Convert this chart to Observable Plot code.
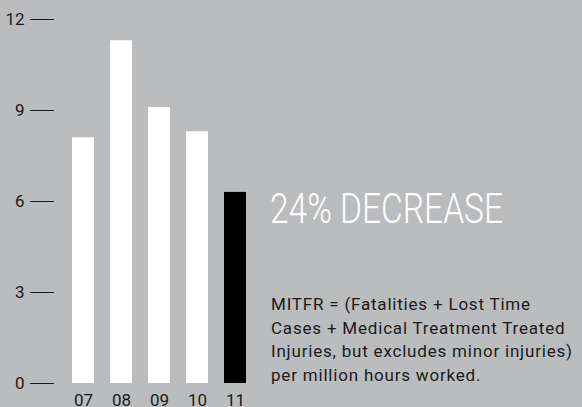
<!DOCTYPE html>
<html>
<head>
<meta charset="utf-8">
<script src="https://cdn.jsdelivr.net/npm/d3@7"></script>
<script src="https://cdn.jsdelivr.net/npm/@observablehq/plot@0.6"></script>
<style>
  html, body { margin: 0; padding: 0; background: #bbbcbe; overflow: hidden; width: 582px; height: 407px; }
  #wrap { position: relative; width: 582px; height: 407px; overflow: hidden; }
  #headline { position: absolute; left: 270px; top: 187px; font-family: Roboto, sans-serif; font-weight: 300; font-size: 43px; line-height: 43px; color: #ffffff; white-space: nowrap; transform-origin: 0 0; }
  #note { position: absolute; left: 271px; top: 293px; font-family: Roboto, sans-serif; font-size: 17px; line-height: 23.7px; letter-spacing: 0.8px; color: #1a1a1a; white-space: nowrap; }
</style>
</head>
<body>
<div id="wrap">
  <div id="chart"></div>
  <div id="headline">24% DECREASE</div>
  <div id="note">MITFR = (Fatalities + Lost Time<br>Cases + Medical Treatment Treated<br>Injuries, but excludes minor injuries)<br>per million hours worked.</div>
</div>
<script>
const years = ["07", "08", "09", "10", "11"];
const mitfr = [8.1, 11.3, 9.1, 8.3, 6.3];
const barColors = ["#ffffff", "#ffffff", "#ffffff", "#ffffff", "#000000"];
const yTicks = [0, 3, 6, 9, 12];

const data = years.map((year, i) => ({year, value: mitfr[i], color: barColors[i]}));

const chart = Plot.plot({
  width: 582,
  height: 420,
  marginTop: 19,
  marginBottom: 37,
  marginLeft: 54,
  marginRight: 318,
  style: {background: "#bbbcbe", fontFamily: "Roboto, sans-serif", fontSize: "17px", color: "#1a1a1a", overflow: "visible"},
  x: {domain: years, padding: 0.41, label: null, tickSize: 0, tickPadding: 10},
  y: {domain: [0, 12], ticks: yTicks, tickSize: 24, tickPadding: 6, label: null},
  color: {type: "identity"},
  marks: [
    Plot.barY(data, {x: "year", y: "value", fill: "color"})
  ]
});
document.getElementById("chart").appendChild(chart);

const h = document.getElementById("headline");
const w = h.getBoundingClientRect().width;
h.style.transform = `scaleX(${233 / w})`;
</script>
</body>
</html>
